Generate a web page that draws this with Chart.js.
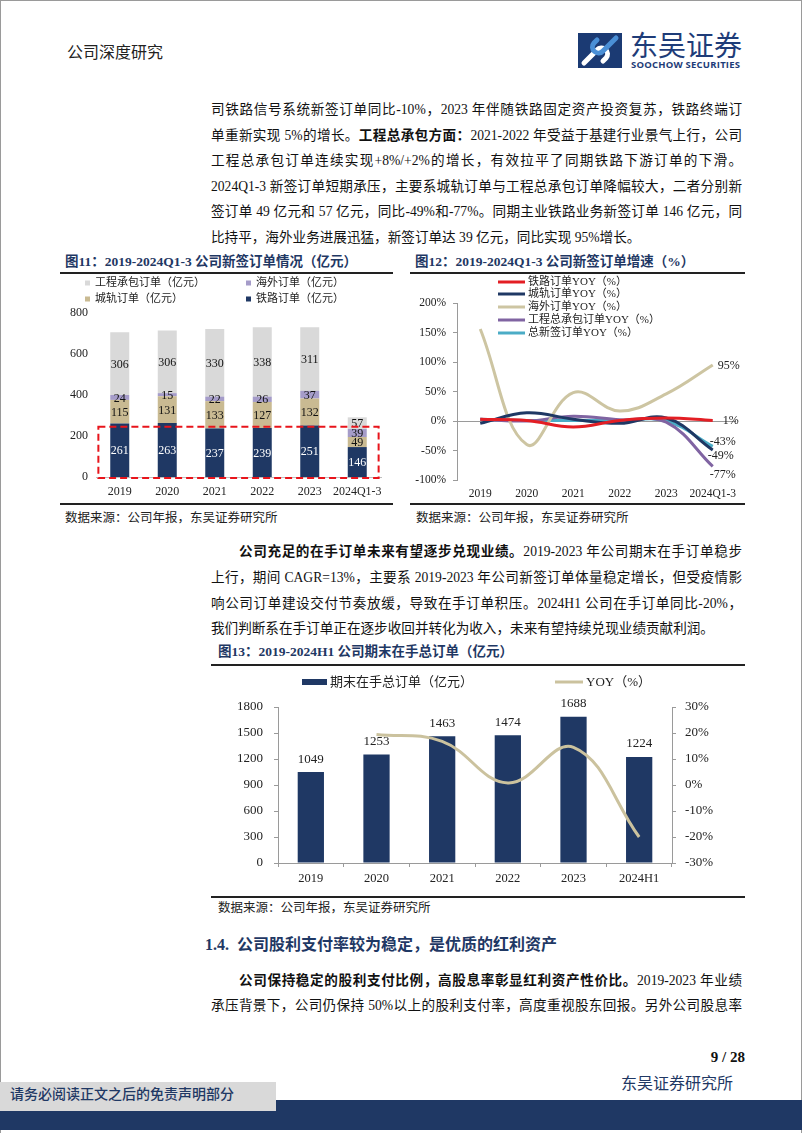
<!DOCTYPE html>
<html lang="zh-CN">
<head>
<meta charset="utf-8">
<title>公司深度研究</title>
<script src="https://cdn.jsdelivr.net/npm/chart.js@4.4.1/dist/chart.umd.min.js"></script>
<style>
html, body { margin: 0; padding: 0; background: #fff; }
#page { position: relative; width: 802px; height: 1133px; overflow: hidden;
  font-family: 'Liberation Serif', 'Noto Sans CJK SC', serif; color: #111; }
.abs { position: absolute; }
.ln { position: absolute; left: 211px; width: 531px; height: 20px; line-height: 20px;
  font-size: 13.6px; text-align: justify; text-align-last: justify; }
.ln.last { text-align-last: left; }
.ln.ind { padding-left: 28px; width: 503px; }
.ttl { position: absolute; font-size: 13.5px; font-weight: bold; color: #1F3864; line-height: 18px; white-space: nowrap; }
.rule { position: absolute; height: 2px; background: #222; }
.src { position: absolute; font-size: 12.5px; line-height: 16px; color: #222; white-space: nowrap; }
</style>
</head>
<body>
<div id="page">
  <div class="abs" style="left:0;top:0;width:1px;height:1133px;background:#9a9a9a"></div>
  <div class="abs" style="left:0;top:0;width:802px;height:1px;background:#9a9a9a"></div>
  <div class="abs" style="right:0;top:0;width:1px;height:1133px;background:#9a9a9a"></div>

  <div class="abs" style="left:67px;top:43px;font-size:16px;line-height:20px;color:#222">公司深度研究</div>

  <svg class="abs" style="left:576px;top:30px" width="172" height="42" viewBox="0 0 172 42">
    <rect x="2" y="3" width="44" height="35" fill="#1B3A73"/>
    <path d="M8 33 L21 20 A6 6 0 0 1 30 28 L27 31" stroke="#fff" stroke-width="5" fill="none" stroke-linecap="round"/>
    <path d="M40 8 L27 21 A6 6 0 0 1 18 13 L21 10" stroke="#4A8FD6" stroke-width="5" fill="none" stroke-linecap="round"/>
    <text x="54" y="26" font-size="28" fill="#1E3C78" font-family="Noto Sans CJK SC" textLength="112">东吴证券</text>
    <text x="55" y="38" font-size="9.5" font-weight="bold" fill="#1E3C78" font-family="Open Sans, sans-serif" textLength="109">SOOCHOW SECURITIES</text>
  </svg>

  <div class="ln" style="top:100px">司铁路信号系统新签订单同比-10%，2023 年伴随铁路固定资产投资复苏，铁路终端订</div>
  <div class="ln" style="top:126px">单重新实现 5%的增长。<b>工程总承包方面：</b>2021-2022 年受益于基建行业景气上行，公司</div>
  <div class="ln" style="top:151px">工程总承包订单连续实现+8%/+2%的增长，有效拉平了同期铁路下游订单的下滑。</div>
  <div class="ln" style="top:177px">2024Q1-3 新签订单短期承压，主要系城轨订单与工程总承包订单降幅较大，二者分别新</div>
  <div class="ln" style="top:202px">签订单 49 亿元和 57 亿元，同比-49%和-77%。同期主业铁路业务新签订单 146 亿元，同</div>
  <div class="ln last" style="top:228px">比持平，海外业务进展迅猛，新签订单达 39 亿元，同比实现 95%增长。</div>

  <div class="ttl" style="left:65px;top:253px">图11：2019-2024Q1-3 公司新签订单情况（亿元）</div>
  <div class="rule" style="left:60px;top:272px;width:333px"></div>
  <div class="ttl" style="left:415px;top:253px">图12：2019-2024Q1-3 公司新签订单增速（%）</div>
  <div class="rule" style="left:410px;top:272px;width:335px"></div>

  <canvas id="c11" class="abs" style="left:60px;top:275px" width="333" height="228"></canvas>
  <canvas id="c12" class="abs" style="left:410px;top:275px" width="335" height="228"></canvas>

  <div class="rule" style="left:60px;top:503px;width:333px"></div>
  <div class="rule" style="left:410px;top:503px;width:335px"></div>
  <div class="src" style="left:65px;top:510px">数据来源：公司年报，东吴证券研究所</div>
  <div class="src" style="left:416px;top:510px">数据来源：公司年报，东吴证券研究所</div>

  <div class="ln ind" style="top:542px"><b>公司充足的在手订单未来有望逐步兑现业绩。</b>2019-2023 年公司期末在手订单稳步</div>
  <div class="ln" style="top:568px">上行，期间 CAGR=13%，主要系 2019-2023 年公司新签订单体量稳定增长，但受疫情影</div>
  <div class="ln" style="top:594px">响公司订单建设交付节奏放缓，导致在手订单积压。2024H1 公司在手订单同比-20%，</div>
  <div class="ln last" style="top:619px">我们判断系在手订单正在逐步收回并转化为收入，未来有望持续兑现业绩贡献利润。</div>

  <div class="ttl" style="left:218px;top:643px">图13：2019-2024H1 公司期末在手总订单（亿元）</div>
  <div class="rule" style="left:211px;top:664px;width:534px"></div>
  <canvas id="c13" class="abs" style="left:211px;top:668px" width="534" height="228"></canvas>
  <div class="rule" style="left:211px;top:896px;width:534px"></div>
  <div class="src" style="left:218px;top:900px">数据来源：公司年报，东吴证券研究所</div>

  <div class="abs" style="left:205px;top:934px;font-size:16px;line-height:22px;font-weight:bold;color:#1F3864;white-space:nowrap">1.4.&nbsp;&nbsp;公司股利支付率较为稳定，是优质的红利资产</div>

  <div class="ln ind" style="top:971px"><b>公司保持稳定的股利支付比例，高股息率彰显红利资产性价比。</b>2019-2023 年业绩</div>
  <div class="ln" style="top:996px">承压背景下，公司仍保持 50%以上的股利支付率，高度重视股东回报。另外公司股息率</div>

  <div class="abs" style="right:57px;top:1047px;font-size:15px;line-height:20px;font-weight:bold;color:#111">9 / 28</div>
  <div class="abs" style="left:621px;top:1073px;font-size:16px;line-height:22px;color:#1F3864;white-space:nowrap">东吴证券研究所</div>

  <div class="abs" style="left:0;top:1100px;width:802px;height:30px;background:#1F3864"></div>
  <div class="abs" style="left:0;top:1082px;width:276px;height:29px;background:#D9D9D9"></div>
  <div class="abs" style="left:10px;top:1085px;font-size:14px;line-height:20px;color:#1F3864;font-weight:500;white-space:nowrap">请务必阅读正文之后的免责声明部分</div>
</div>

<script>
// ---- data ----
const years = ['2019', '2020', '2021', '2022', '2023', '2024Q1-3'];
const railOrders = [261, 263, 237, 239, 251, 146];
const metroOrders = [115, 131, 133, 127, 132, 49];
const overseasOrders = [24, 15, 22, 26, 37, 39];
const epcOrders = [306, 306, 330, 338, 311, 57];

const railYoy = [3, 1, -10, 1, 5, 1];
const metroYoy = [-4, 14, 3, -4, 5, -49];
const overseasYoy = [156, -40, 48, 17, 46, 95];
const epcYoy = [3, 0, 8, 2, -2, -77];
const totalYoy = [3, 1, 1, 1, 0, -43];

const backlogYears = ['2019', '2020', '2021', '2022', '2023', '2024H1'];
const backlog = [1049, 1253, 1463, 1474, 1688, 1224];
const backlogYoy = [null, 19.4, 16.8, 0.8, 14.5, -20];

const NAVY = '#1F3864';
const AXIS = '#9a9a9a';

Chart.defaults.font.family = "'Liberation Serif', 'Noto Sans CJK SC', serif";
Chart.defaults.color = '#222';
Chart.defaults.animation = false;

// legend drawn at fixed spots, from the dataset labels and colours
const placedLegend = {
  id: 'placedLegend',
  afterDraw(chart, args, opts) {
    const ctx = chart.ctx;
    ctx.save();
    ctx.font = opts.font;
    ctx.textBaseline = 'middle';
    ctx.textAlign = 'left';
    for (const it of opts.items) {
      const ds = chart.data.datasets[it.dataset];
      if (it.kind === 'line') {
        ctx.strokeStyle = ds.borderColor;
        ctx.lineWidth = it.h;
        ctx.beginPath();
        ctx.moveTo(it.x, it.y);
        ctx.lineTo(it.x + it.w, it.y);
        ctx.stroke();
      } else {
        ctx.fillStyle = ds.backgroundColor;
        ctx.fillRect(it.x, it.y - it.h / 2, it.w, it.h);
      }
      ctx.fillStyle = opts.color;
      ctx.fillText(ds.label, it.x + it.w + opts.gap, it.y + 0.5);
    }
    ctx.restore();
  }
};

// value inside each stacked segment
const segmentLabels = {
  id: 'segmentLabels',
  afterDatasetsDraw(chart, args, opts) {
    const ctx = chart.ctx;
    ctx.save();
    ctx.font = opts.font;
    ctx.textAlign = 'center';
    ctx.textBaseline = 'middle';
    chart.data.datasets.forEach((ds, i) => {
      chart.getDatasetMeta(i).data.forEach((bar, j) => {
        ctx.fillStyle = opts.colors[i];
        ctx.fillText(String(ds.data[j]), bar.x, (bar.y + bar.base) / 2 + 1);
      });
    });
    ctx.restore();
  }
};

// red dashed frame round the railway segments
const dashedFrame = {
  id: 'dashedFrame',
  afterDatasetsDraw(chart, args, opts) {
    const x = chart.scales.x, y = chart.scales.y;
    const step = x.getPixelForValue(1) - x.getPixelForValue(0);
    const left = x.getPixelForValue(0) - step * opts.pad;
    const right = x.getPixelForValue(chart.data.labels.length - 1) + step * opts.pad;
    const top = y.getPixelForValue(opts.top);
    const bottom = y.getPixelForValue(0) + 1;
    const ctx = chart.ctx;
    ctx.save();
    ctx.strokeStyle = opts.color;
    ctx.lineWidth = 2;
    ctx.setLineDash([7, 4]);
    ctx.strokeRect(left, top, right - left, bottom - top);
    ctx.restore();
  }
};

// label next to the last point of each line
const endLabels = {
  id: 'endLabels',
  afterDatasetsDraw(chart, args, opts) {
    const ctx = chart.ctx;
    ctx.save();
    ctx.font = opts.font;
    ctx.fillStyle = opts.color;
    ctx.textAlign = 'left';
    ctx.textBaseline = 'middle';
    chart.data.datasets.forEach((ds, i) => {
      const pts = chart.getDatasetMeta(i).data;
      const p = pts[pts.length - 1];
      const v = ds.data[ds.data.length - 1];
      const off = opts.offsets[i];
      ctx.fillText(v + '%', p.x + off[0], p.y + off[1]);
    });
    ctx.restore();
  }
};

// value above each bar
const barTopLabels = {
  id: 'barTopLabels',
  afterDatasetsDraw(chart, args, opts) {
    const ctx = chart.ctx;
    const ds = chart.data.datasets[opts.dataset];
    ctx.save();
    ctx.font = opts.font;
    ctx.fillStyle = opts.color;
    ctx.textAlign = 'center';
    ctx.textBaseline = 'middle';
    chart.getDatasetMeta(opts.dataset).data.forEach((bar, j) => {
      ctx.fillText(String(ds.data[j]), bar.x, bar.y - opts.offset);
    });
    ctx.restore();
  }
};

// ---- 图11 ----
new Chart(document.getElementById('c11'), {
  type: 'bar',
  data: {
    labels: years,
    datasets: [
      { label: '铁路订单（亿元）', data: railOrders, backgroundColor: NAVY },
      { label: '城轨订单（亿元）', data: metroOrders, backgroundColor: '#C9BA92' },
      { label: '海外订单（亿元）', data: overseasOrders, backgroundColor: '#A59CC9' },
      { label: '工程承包订单（亿元）', data: epcOrders, backgroundColor: '#D9D9D9' }
    ]
  },
  options: {
    responsive: false,
    layout: { padding: { top: 38, right: 12, left: 0, bottom: 0 } },
    datasets: { bar: { barPercentage: 0.4, categoryPercentage: 1 } },
    scales: {
      x: {
        stacked: true,
        grid: { display: false, drawTicks: false },
        border: { display: true, color: '#bfbfbf' },
        ticks: { padding: 8, font: { size: 12 }, maxRotation: 0, autoSkip: false },
        afterFit: s => { s.height = 26; }
      },
      y: {
        stacked: true, min: 0, max: 800,
        grid: { display: false, drawTicks: false },
        border: { display: false },
        ticks: { stepSize: 200, padding: 8, font: { size: 12 }, callback: v => String(v) },
        afterFit: s => { s.width = 36; }
      }
    },
    plugins: {
      legend: { display: false },
      tooltip: { enabled: false },
      segmentLabels: { font: "12px 'Liberation Serif'", colors: ['#fff', '#111', '#111', '#111'] },
      dashedFrame: { top: 245, pad: 0.45, color: '#E8141B' },
      placedLegend: {
        font: "11px 'Liberation Serif', 'Noto Sans CJK SC'", color: '#222', gap: 5,
        items: [
          { dataset: 3, x: 25, y: 8, w: 5, h: 5 },
          { dataset: 2, x: 186, y: 8, w: 5, h: 5 },
          { dataset: 1, x: 25, y: 24, w: 5, h: 5 },
          { dataset: 0, x: 186, y: 24, w: 5, h: 5 }
        ]
      }
    }
  },
  plugins: [segmentLabels, dashedFrame, placedLegend]
});

// ---- 图12 ----
const lineDs = (label, data, color) => ({
  label, data, borderColor: color, backgroundColor: color,
  borderWidth: 3, pointRadius: 0, tension: 0.4, fill: false
});

new Chart(document.getElementById('c12'), {
  type: 'line',
  data: {
    labels: years,
    datasets: [
      lineDs('铁路订单YOY（%）', railYoy, '#E31E24'),
      lineDs('城轨订单YOY（%）', metroYoy, NAVY),
      lineDs('海外订单YOY（%）', overseasYoy, '#CDC5A2'),
      lineDs('工程总承包订单YOY（%）', epcYoy, '#8064A2'),
      lineDs('总新签订单YOY（%）', totalYoy, '#4BACC6')
    ]
  },
  options: {
    responsive: false,
    layout: { padding: { top: 28, right: 9, left: 0, bottom: 0 } },
    scales: {
      x: {
        offset: true,
        grid: { display: false, drawTicks: false },
        border: { display: false },
        ticks: { padding: 7, font: { size: 11.5 }, maxRotation: 0, autoSkip: false },
        afterFit: s => { s.height = 23; }
      },
      y: {
        min: -100, max: 200,
        grid: {
          color: ctx => (ctx.tick && ctx.tick.value === 0 ? AXIS : 'rgba(0,0,0,0)'),
          tickColor: AXIS, tickLength: 4
        },
        border: { display: true, color: AXIS },
        ticks: { stepSize: 50, padding: 7, font: { size: 11.5 }, callback: v => v + '%' },
        afterFit: s => { s.width = 47; }
      }
    },
    plugins: {
      legend: { display: false },
      tooltip: { enabled: false },
      endLabels: {
        font: "12px 'Liberation Serif'", color: '#222',
        offsets: [[10, 0], [-5, 6], [5, 1], [-3, 8], [-3, -5]]
      },
      placedLegend: {
        font: "11px 'Liberation Serif', 'Noto Sans CJK SC'", color: '#222', gap: 3,
        items: [
          { dataset: 0, kind: 'line', x: 88, y: 7, w: 27, h: 3 },
          { dataset: 1, kind: 'line', x: 88, y: 19, w: 27, h: 3 },
          { dataset: 2, kind: 'line', x: 88, y: 32, w: 27, h: 3 },
          { dataset: 3, kind: 'line', x: 88, y: 45, w: 27, h: 3 },
          { dataset: 4, kind: 'line', x: 88, y: 58, w: 27, h: 3 }
        ]
      }
    }
  },
  plugins: [endLabels, placedLegend]
});

// ---- 图13 ----
new Chart(document.getElementById('c13'), {
  data: {
    labels: backlogYears,
    datasets: [
      { type: 'bar', label: '期末在手总订单（亿元）', data: backlog, backgroundColor: NAVY,
        yAxisID: 'y', order: 1, barPercentage: 0.4, categoryPercentage: 1 },
      { type: 'line', label: 'YOY（%）', data: backlogYoy, borderColor: '#CBC29E', backgroundColor: '#CBC29E',
        yAxisID: 'y1', order: 0, borderWidth: 3, pointRadius: 0, tension: 0.4 }
    ]
  },
  options: {
    responsive: false,
    layout: { padding: { top: 39, right: 0, left: 0, bottom: 0 } },
    scales: {
      x: {
        grid: { offset: true, drawOnChartArea: false, color: AXIS, tickLength: 4 },
        border: { display: true, color: AXIS },
        ticks: { padding: 4, font: { size: 12.5 }, maxRotation: 0, autoSkip: false },
        afterFit: s => { s.height = 33; }
      },
      y: {
        position: 'left', min: 0, max: 1800,
        grid: { drawOnChartArea: false, color: AXIS, tickLength: 4 },
        border: { display: true, color: AXIS },
        ticks: { stepSize: 300, padding: 11, font: { size: 13 }, callback: v => String(v) },
        afterFit: s => { s.width = 67; }
      },
      y1: {
        position: 'right', min: -30, max: 30,
        grid: { drawOnChartArea: false, color: AXIS, tickLength: 4 },
        border: { display: true, color: AXIS },
        ticks: { stepSize: 10, padding: 9, font: { size: 13 }, callback: v => v + '%' },
        afterFit: s => { s.width = 73; }
      }
    },
    plugins: {
      legend: { display: false },
      tooltip: { enabled: false },
      barTopLabels: { dataset: 0, offset: 13, font: "13px 'Liberation Serif'", color: '#222' },
      placedLegend: {
        font: "13px 'Liberation Serif', 'Noto Sans CJK SC'", color: '#222', gap: 3,
        items: [
          { dataset: 0, x: 91, y: 14, w: 25, h: 6 },
          { dataset: 1, kind: 'line', x: 344, y: 14, w: 28, h: 3 }
        ]
      }
    }
  },
  plugins: [barTopLabels, placedLegend]
});
</script>
</body>
</html>
